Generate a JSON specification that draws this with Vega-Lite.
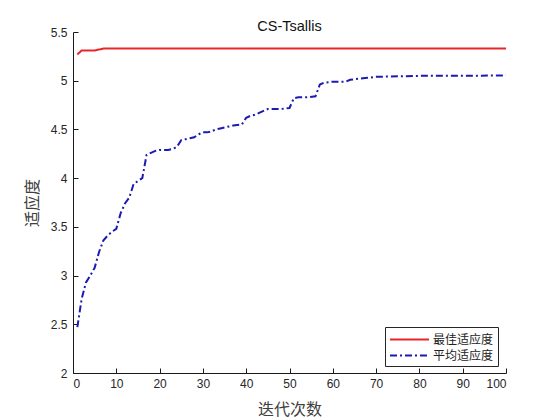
{
  "$schema": "https://vega.github.io/schema/vega-lite/v6.json",
  "autosize": "none",
  "padding": {"left": 73, "top": 32, "right": 54, "bottom": 47},
  "width": 433,
  "height": 341,
  "background": "white",
  "config": {
    "view": {"stroke": null},
    "font": "Liberation Sans",
    "axis": {
      "grid": false,
      "domainColor": "#1a1a1a",
      "tickColor": "#1a1a1a",
      "labelColor": "#262626",
      "labelFont": "Liberation Sans",
      "labelFontSize": 12,
      "titleFont": "Noto Sans CJK SC",
      "titleFontWeight": "normal",
      "titleFontSize": 16,
      "titleColor": "#404040"
    }
  },
  "title": {
    "text": "CS-Tsallis",
    "fontSize": 14.5,
    "fontWeight": "normal",
    "font": "Liberation Sans",
    "color": "#111111",
    "offset": 0,
    "dy": 8
  },
  "data": {
    "values": [
      {"iter": 1, "series": "最佳适应度", "fitness": 5.27},
      {"iter": 2, "series": "最佳适应度", "fitness": 5.31},
      {"iter": 3, "series": "最佳适应度", "fitness": 5.31},
      {"iter": 5, "series": "最佳适应度", "fitness": 5.31},
      {"iter": 6, "series": "最佳适应度", "fitness": 5.32},
      {"iter": 7, "series": "最佳适应度", "fitness": 5.33},
      {"iter": 30, "series": "最佳适应度", "fitness": 5.33},
      {"iter": 60, "series": "最佳适应度", "fitness": 5.33},
      {"iter": 100, "series": "最佳适应度", "fitness": 5.33},
      {"iter": 1, "series": "平均适应度", "fitness": 2.47},
      {"iter": 2, "series": "平均适应度", "fitness": 2.76},
      {"iter": 3, "series": "平均适应度", "fitness": 2.93},
      {"iter": 4, "series": "平均适应度", "fitness": 3.0},
      {"iter": 5, "series": "平均适应度", "fitness": 3.08},
      {"iter": 6, "series": "平均适应度", "fitness": 3.24},
      {"iter": 7, "series": "平均适应度", "fitness": 3.36},
      {"iter": 8, "series": "平均适应度", "fitness": 3.41},
      {"iter": 9, "series": "平均适应度", "fitness": 3.45},
      {"iter": 10, "series": "平均适应度", "fitness": 3.48},
      {"iter": 11, "series": "平均适应度", "fitness": 3.64},
      {"iter": 12, "series": "平均适应度", "fitness": 3.74},
      {"iter": 13, "series": "平均适应度", "fitness": 3.8},
      {"iter": 14, "series": "平均适应度", "fitness": 3.94},
      {"iter": 15, "series": "平均适应度", "fitness": 3.97},
      {"iter": 16, "series": "平均适应度", "fitness": 4.0},
      {"iter": 17, "series": "平均适应度", "fitness": 4.24},
      {"iter": 18, "series": "平均适应度", "fitness": 4.26},
      {"iter": 19, "series": "平均适应度", "fitness": 4.28},
      {"iter": 20, "series": "平均适应度", "fitness": 4.29},
      {"iter": 22, "series": "平均适应度", "fitness": 4.29},
      {"iter": 23, "series": "平均适应度", "fitness": 4.30},
      {"iter": 24, "series": "平均适应度", "fitness": 4.32},
      {"iter": 25, "series": "平均适应度", "fitness": 4.39},
      {"iter": 26, "series": "平均适应度", "fitness": 4.40},
      {"iter": 27, "series": "平均适应度", "fitness": 4.41},
      {"iter": 28, "series": "平均适应度", "fitness": 4.42},
      {"iter": 29, "series": "平均适应度", "fitness": 4.45},
      {"iter": 30, "series": "平均适应度", "fitness": 4.47},
      {"iter": 31, "series": "平均适应度", "fitness": 4.47},
      {"iter": 32, "series": "平均适应度", "fitness": 4.48},
      {"iter": 33, "series": "平均适应度", "fitness": 4.50},
      {"iter": 34, "series": "平均适应度", "fitness": 4.51},
      {"iter": 35, "series": "平均适应度", "fitness": 4.52},
      {"iter": 36, "series": "平均适应度", "fitness": 4.53},
      {"iter": 37, "series": "平均适应度", "fitness": 4.54},
      {"iter": 39, "series": "平均适应度", "fitness": 4.55},
      {"iter": 40, "series": "平均适应度", "fitness": 4.62},
      {"iter": 41, "series": "平均适应度", "fitness": 4.64},
      {"iter": 42, "series": "平均适应度", "fitness": 4.65},
      {"iter": 43, "series": "平均适应度", "fitness": 4.67},
      {"iter": 44, "series": "平均适应度", "fitness": 4.69},
      {"iter": 45, "series": "平均适应度", "fitness": 4.71},
      {"iter": 46, "series": "平均适应度", "fitness": 4.71},
      {"iter": 48, "series": "平均适应度", "fitness": 4.71},
      {"iter": 50, "series": "平均适应度", "fitness": 4.72},
      {"iter": 51, "series": "平均适应度", "fitness": 4.82},
      {"iter": 52, "series": "平均适应度", "fitness": 4.83},
      {"iter": 54, "series": "平均适应度", "fitness": 4.83},
      {"iter": 56, "series": "平均适应度", "fitness": 4.84},
      {"iter": 57, "series": "平均适应度", "fitness": 4.96},
      {"iter": 58, "series": "平均适应度", "fitness": 4.98},
      {"iter": 60, "series": "平均适应度", "fitness": 4.99},
      {"iter": 63, "series": "平均适应度", "fitness": 4.99},
      {"iter": 64, "series": "平均适应度", "fitness": 5.01},
      {"iter": 66, "series": "平均适应度", "fitness": 5.02},
      {"iter": 68, "series": "平均适应度", "fitness": 5.03},
      {"iter": 70, "series": "平均适应度", "fitness": 5.04},
      {"iter": 75, "series": "平均适应度", "fitness": 5.045},
      {"iter": 80, "series": "平均适应度", "fitness": 5.05},
      {"iter": 90, "series": "平均适应度", "fitness": 5.05},
      {"iter": 100, "series": "平均适应度", "fitness": 5.055}
    ]
  },
  "mark": {"type": "line", "strokeWidth": 2, "clip": true},
  "encoding": {
    "x": {
      "field": "iter",
      "type": "quantitative",
      "title": "迭代次数",
      "scale": {"domain": [0, 100], "nice": false},
      "axis": {"values": [0, 10, 20, 30, 40, 50, 60, 70, 80, 90, 100], "tickSize": -5, "labelPadding": 10, "titlePadding": 12}
    },
    "y": {
      "field": "fitness",
      "type": "quantitative",
      "title": "适应度",
      "scale": {"domain": [2, 5.5], "nice": false, "zero": false},
      "axis": {"values": [2, 2.5, 3, 3.5, 4, 4.5, 5, 5.5], "format": "~f", "tickSize": -5, "labelPadding": 11, "titlePadding": 10}
    },
    "color": {
      "field": "series",
      "type": "nominal",
      "scale": {"domain": ["最佳适应度", "平均适应度"], "range": ["#e8262a", "#1a1ab4"]},
      "legend": {
        "title": null,
        "orient": "none",
        "legendX": 312,
        "legendY": 295,
        "symbolType": "M-1,0H4.2",
        "symbolSize": 225,
        "symbolStrokeWidth": 2,
        "labelFont": "Noto Sans CJK SC",
        "labelFontSize": 12,
        "labelColor": "#222222",
        "strokeColor": "#262626",
        "fillColor": "white",
        "padding": 4,
        "rowPadding": 1,
        "labelOffset": 27
      }
    },
    "strokeDash": {
      "field": "series",
      "type": "nominal",
      "scale": {"domain": ["最佳适应度", "平均适应度"], "range": [[1, 0], [7, 3, 2, 3]]},
      "legend": null
    }
  }
}
